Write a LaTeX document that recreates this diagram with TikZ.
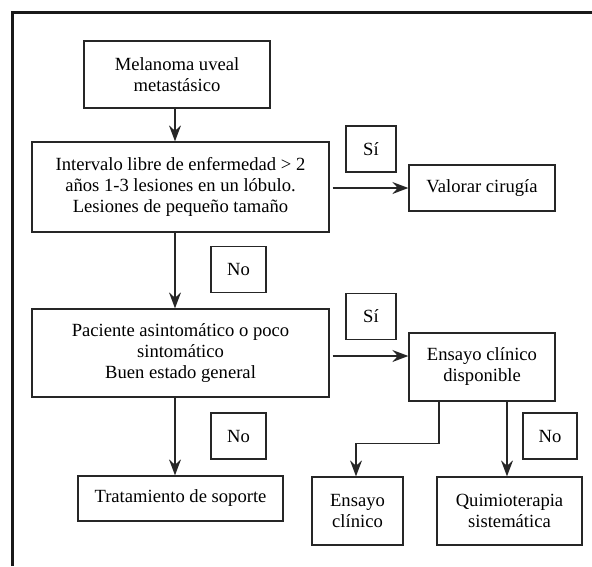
\documentclass[tikz,border=0pt]{standalone}
\usepackage{fontspec}
\setmainfont{Liberation Serif}
\usetikzlibrary{arrows.meta}

\begin{document}
\begin{tikzpicture}[x=1pt,y=-1pt,>={Stealth[length=16pt,width=12pt,inset=5.5pt]},
  color=black!85,line width=1.5pt,
  main node/.style={rectangle,draw,line width=1.3pt,align=center,inner sep=0pt,
    text=black,font=\fontsize{18.6}{21}\selectfont},
  tag node/.style={main node,minimum width=50pt,minimum height=46pt}]

  \useasboundingbox (0,0) rectangle (592,566);
  % frame
  \draw[line width=3pt,black!90] (12,566) -- (12,12) -- (592,12);

  \node[main node, minimum width=186pt, minimum height=67pt] (1) at (177,74.5)
    {Melanoma uveal\\metastásico};
  \node[main node, minimum width=297pt, minimum height=90pt] (2) at (180.5,187)
    {Intervalo libre de enfermedad > 2\\años 1-3 lesiones en un lóbulo.\\Lesiones de pequeño tamaño};
  \node[main node, minimum width=297pt, minimum height=88pt] (3) at (180.5,353)
    {Paciente asintomático o poco\\sintomático\\Buen estado general};
  \node[main node, minimum width=205pt, minimum height=45pt] (4) at (180.5,498.5)
    {Tratamiento de soporte};
  \node[main node, minimum width=146pt, minimum height=46pt] (5) at (482,188)
    {Valorar cirugía};
  \node[main node, minimum width=146pt, minimum height=68pt] (6) at (482,367)
    {Ensayo clínico\\disponible};
  \node[main node, minimum width=91pt, minimum height=68pt] (7) at (357.5,511)
    {Ensayo\\clínico};
  \node[main node, minimum width=145pt, minimum height=68pt] (8) at (509.5,511)
    {Quimioterapia\\sistemática};

  % yes / no tags
  \node[tag node] (si1) at (371,149) {Sí};
  \node[tag node] (si2) at (371,316.5) {Sí};
  \node[tag node, minimum width=55pt] (no1) at (238.5,269.5) {No};
  \node[tag node, minimum width=55pt] (no2) at (238.5,436) {No};
  \node[tag node, minimum width=54pt] (no3) at (550,436) {No};

  \path[->]
    ([xshift=-2pt]1.south) edge ([xshift=-2pt]1.south |- 2.north)
    ([xshift=-5.5pt]2.south) edge ([xshift=-5.5pt]3.north)
    ([xshift=-5.5pt]3.south) edge ([xshift=-5.5pt]3.south |- 4.north)
    ([xshift=3pt]2.east |- 5.west) edge (5.west)
    ([shift={(3pt,-3pt)}]3.east) edge ([yshift=-3pt]3.east -| 6.west)
    ([xshift=25pt]6.south) edge ([xshift=25pt]6.south |- 8.north);

  \draw[->] ([xshift=-43pt]6.south) -- ++(0,42) -| ([xshift=-1.5pt]7.north);

\end{tikzpicture}
\end{document}
